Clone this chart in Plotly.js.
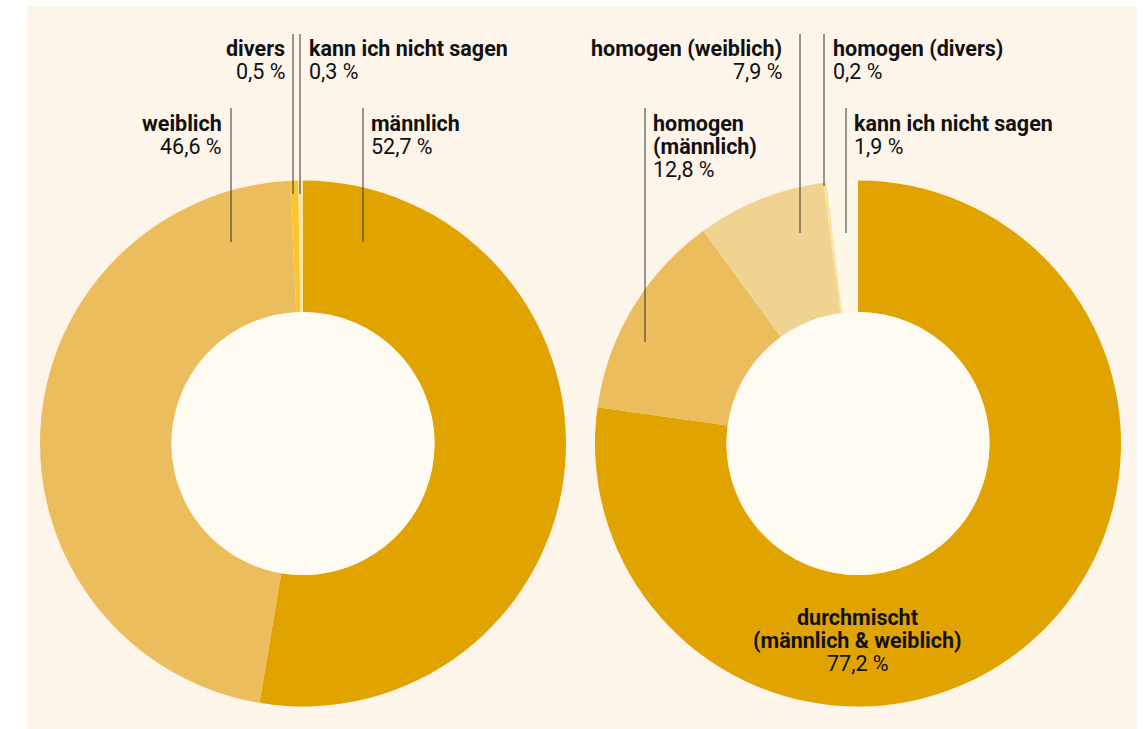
<!DOCTYPE html>
<html><head><meta charset="utf-8">
<script src="https://cdn.plot.ly/plotly-3.0.1.min.js"></script>
<style>html,body{margin:0;padding:0;background:#fff}#chart{width:1145px;height:729px}</style>
</head><body><div id="chart"></div>
<script>
// Data
const genderLabels = ["männlich", "weiblich", "divers", "kann ich nicht sagen"];
const genderValues = [52.7, 46.6, 0.5, 0.3];
const genderText = ["52,7 %", "46,6 %", "0,5 %", "0,3 %"];
const teamLabels = ["durchmischt (männlich & weiblich)", "homogen (männlich)", "homogen (weiblich)", "homogen (divers)", "kann ich nicht sagen"];
const teamValues = [77.2, 12.8, 7.9, 0.2, 1.9];
const teamText = ["77,2 %", "12,8 %", "7,9 %", "0,2 %", "1,9 %"];

const genderColors = ["#e0a300", "#ebbd5d", "#fbc52f", "#fde5a6"];
const teamColors = ["#e0a300", "#ebbd5d", "#f0d291", "#fce2a0", "#fff8e8"];

const W = 1145, H = 729;
const px = x => x / W;
const py = y => 1 - y / H;
const R = 263;
function dom(cx, cy) {
  return {x: [px(cx - R), px(cx + R)], y: [py(cy + R), py(cy - R)]};
}
const c1 = [303, 443.5], c2 = [858, 443.5];

const traces = [
  {type: "pie", labels: genderLabels, values: genderValues, sort: false, direction: "clockwise", rotation: 0,
   hole: 0.5, marker: {colors: genderColors, line: {width: 0}}, textinfo: "none", hoverinfo: "skip",
   domain: dom(c1[0], c1[1]), showlegend: false},
  {type: "pie", labels: teamLabels, values: teamValues, sort: false, direction: "clockwise", rotation: 0,
   hole: 0.5, marker: {colors: teamColors, line: {width: 0}}, textinfo: "none", hoverinfo: "skip",
   domain: dom(c2[0], c2[1]), showlegend: false}
];

const holeR = R * 0.5;
const shapes = [
  {type: "rect", xref: "paper", yref: "paper", x0: px(27), x1: px(1137), y0: py(729), y1: py(6),
   fillcolor: "#fdf5e9", line: {width: 0}, layer: "below"},
  {type: "circle", xref: "paper", yref: "paper", xsizemode: "pixel", ysizemode: "pixel",
   xanchor: px(c1[0]), yanchor: py(c1[1]), x0: -holeR, x1: holeR, y0: -holeR, y1: holeR,
   fillcolor: "#fffbf3", line: {width: 0}, layer: "above"},
  {type: "circle", xref: "paper", yref: "paper", xsizemode: "pixel", ysizemode: "pixel",
   xanchor: px(c2[0]), yanchor: py(c2[1]), x0: -holeR, x1: holeR, y0: -holeR, y1: holeR,
   fillcolor: "#fffbf3", line: {width: 0}, layer: "above"}
];
function vline(x, y0, y1) {
  shapes.push({type: "line", xref: "paper", yref: "paper", x0: px(x), x1: px(x), y0: py(y0), y1: py(y1),
    line: {color: "#333333", width: 1}, layer: "above"});
}
vline(231, 108, 242);
vline(293, 34, 194);
vline(300, 34, 194);
vline(363, 108, 242);
vline(800, 34, 233);
vline(824, 34, 186);
vline(645, 108, 342);
vline(846, 108, 233);

const FS = 21.5;
const font = {family: "Roboto, sans-serif", size: FS, color: "#111111"};
const annotations = [];
// lines: array of [text, bold]
function block(lines, x, yTop, anchor) {
  const off = anchor === "left" ? -2 : (anchor === "right" ? 2 : 0);
  lines.forEach((ln, i) => {
    annotations.push({xref: "paper", yref: "paper", x: px(x + off), y: py(yTop + i * 23),
      xanchor: anchor, yanchor: "middle", align: anchor,
      text: ln[1] ? "<b>" + ln[0] + "</b>" : ln[0], showarrow: false, font: font});
  });
}
block([[genderLabels[1], true], [genderText[1], false]], 222, 123, "right");
block([[genderLabels[2], true], [genderText[2], false]], 285, 48, "right");
block([[genderLabels[3], true], [genderText[3], false]], 309, 48, "left");
block([[genderLabels[0], true], [genderText[0], false]], 371, 123, "left");
block([[teamLabels[2], true], [teamText[2], false]], 782, 48, "right");
block([[teamLabels[3], true], [teamText[3], false]], 833, 48, "left");
block([["homogen", true], ["(männlich)", true], [teamText[1], false]], 653, 123, "left");
block([[teamLabels[4], true], [teamText[4], false]], 854, 123, "left");
block([["durchmischt", true], ["(männlich & weiblich)", true], [teamText[0], false]], 858, 617, "center");

Plotly.newPlot("chart", traces, {
  width: W, height: H, margin: {l: 0, r: 0, t: 0, b: 0},
  paper_bgcolor: "#ffffff", showlegend: false, shapes: shapes, annotations: annotations,
  font: font
}, {displayModeBar: false, staticPlot: true});
</script></body></html>
